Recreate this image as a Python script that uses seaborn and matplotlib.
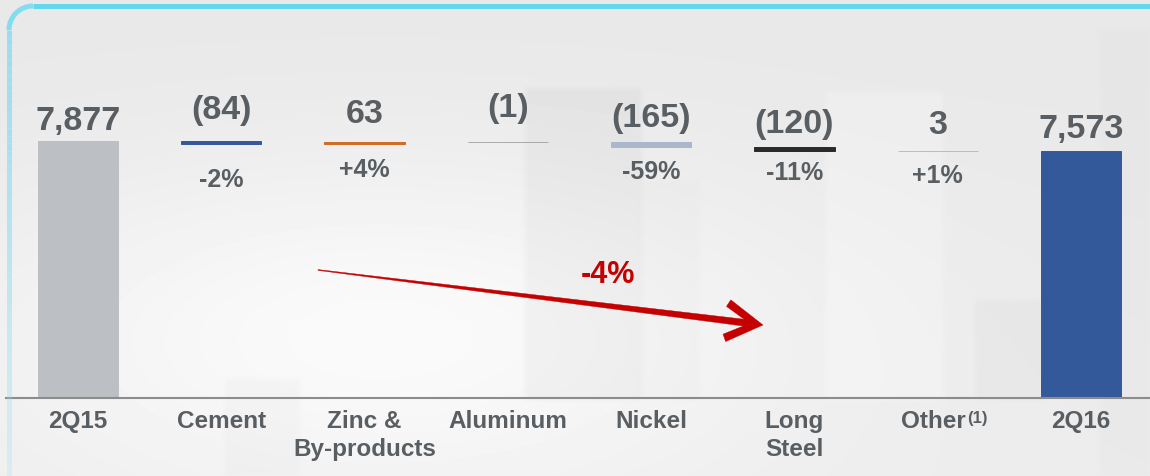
import numpy as np
import pandas as pd
import matplotlib
matplotlib.use("Agg")
import matplotlib.pyplot as plt
import seaborn as sns
from matplotlib.patches import Polygon, Arc
from matplotlib.lines import Line2D
from matplotlib.collections import LineCollection
from matplotlib.transforms import IdentityTransform, ScaledTranslation

# ---------------- data ----------------
categories = ["2Q15", "Cement", "Zinc &\nBy-products", "Aluminum", "Nickel",
              "Long\nSteel", "Other", "2Q16"]
footnotes = ["", "", "", "", "", "", "(1)", ""]
changes = [7877, -84, 63, -1, -165, -120, 3, 7573]
is_total = [True, False, False, False, False, False, False, True]
value_labels = ["7,877", "(84)", "63", "(1)", "(165)", "(120)", "3", "7,573"]
pct_labels = ["", "-2%", "+4%", "", "-59%", "-11%", "+1%", ""]
bar_colors = ["#bcc0c4", "#34599b", "#cf6b24", "#a9a9a9", "#abb8cc",
              "#2a2a2a", "#f0be2e", "#34599b"]
overall_change = "-4%"

# label layout (pixel gaps between bar edge and label baseline)
value_gap_px = [11, 22, 19, 25, 15, 14, 17, 13]
pct_gap_px = [0, 43, 33, 0, 32, 29, 32, 0]

# waterfall geometry derived from the changes
bottoms, heights = [], []
running = 0
for c, tot in zip(changes, is_total):
    if tot:
        bottoms.append(0)
        heights.append(c)
        running = c
    else:
        new = running + c
        bottoms.append(min(running, new))
        heights.append(abs(c))
        running = new

df = pd.DataFrame({"category": categories, "height": heights, "bottom": bottoms})

# ---------------- style ----------------
sns.set_theme(style="white")
plt.rcParams["font.family"] = ["Liberation Sans", "DejaVu Sans"]

TXT = "#595e62"
RED = "#c40000"
W, H, DPI = 1150, 476, 100
fig = plt.figure(figsize=(W / DPI, H / DPI), dpi=DPI)
fig.patch.set_facecolor("#ebebeb")

# ---------------- background ----------------
yy, xx = np.mgrid[0:H, 0:W].astype(float)
img = 232.0 + 4.0 * (yy / H)
img += 15.0 * np.exp(-(((xx - 380) / 400.0) ** 2 + ((yy - 330) / 170.0) ** 2))
shade = np.zeros_like(img)
for (x0, x1, y0, y1, d) in [(525, 642, 88, 400, -7), (826, 943, 92, 400, 4),
                            (975, 1045, 300, 400, -5), (225, 300, 378, 476, -4),
                            (640, 700, 180, 400, -3), (1100, 1150, 30, 476, -3)]:
    shade[y0:y1, x0:x1] += d
ker = np.ones(7) / 7
shade = np.apply_along_axis(lambda r: np.convolve(r, ker, mode="same"), 1, shade)
shade = np.apply_along_axis(lambda r: np.convolve(r, ker, mode="same"), 0, shade)
img = np.clip(img + shade, 0, 255)
bg = fig.add_axes([0, 0, 1, 1], zorder=-10)
bg.imshow(img, cmap="gray", vmin=0, vmax=255, aspect="auto",
          interpolation="bilinear", extent=(0, W, H, 0))
bg.set_axis_off()

# ---------------- main axes ----------------
left_px, right_px, base_px, top_px = 6.35, 1152.75, 398.0, 10.0
ax = fig.add_axes([left_px / W, (H - base_px) / H,
                   (right_px - left_px) / W, (base_px - top_px) / H])
ax.patch.set_alpha(0)

sns.barplot(data=df, x="category", y="height", order=categories,
            bottom=df["bottom"].to_numpy(), width=0.56, errorbar=None,
            color="#999999", saturation=1, ax=ax)
for p, c in zip(ax.patches, bar_colors):
    p.set_facecolor(c)
    p.set_edgecolor(c)
    p.set_linewidth(0.7)

ax.set_xlim(-0.5, len(categories) - 0.5)
ax.set_ylim(0, 11890)
ax.set_yticks([])
ax.set_xlabel("")
ax.set_ylabel("")
for s in ["top", "left", "right"]:
    ax.spines[s].set_visible(False)
ax.spines["bottom"].set_color("#8c8c8c")
ax.spines["bottom"].set_linewidth(1.5)
ax.set_xticks(range(len(categories)))
ax.set_xticklabels(categories, fontsize=17.5, fontweight="bold", color=TXT,
                   linespacing=1.3)
ax.tick_params(axis="x", length=0, pad=8.3)

# value labels above each bar, percentage labels below each change bar
for i in range(len(categories)):
    top = bottoms[i] + heights[i]
    ax.annotate(value_labels[i], (i, top), xytext=(0, value_gap_px[i]),
                textcoords="offset pixels", ha="center", va="baseline",
                fontsize=24.5, fontweight="bold", color=TXT)
    if pct_labels[i]:
        ax.annotate(pct_labels[i], (i, bottoms[i]), xytext=(0, -pct_gap_px[i]),
                    textcoords="offset pixels", ha="center", va="baseline",
                    fontsize=18, fontweight="bold", color=TXT)

# footnote markers next to tick labels (label + marker centred together)
for lbl, fn in zip(ax.get_xticklabels(), footnotes):
    if fn:
        lbl.set_transform(lbl.get_transform() +
                          ScaledTranslation(-4 / DPI, 0, fig.dpi_scale_trans))
fig.canvas.draw()
renderer = fig.canvas.get_renderer()
for lbl, fn in zip(ax.get_xticklabels(), footnotes):
    if fn:
        bb = lbl.get_window_extent(renderer)
        fig.text(bb.x1 + 1, bb.y1 - 1.5, fn, transform=IdentityTransform(),
                 ha="left", va="top", fontsize=12, fontweight="bold", color=TXT)

# overall change arrow (tapered shaft + barbed head)
arrow_start = (1.675, 3923)
arrow_end = (4.78, 2237)
p0 = ax.transData.transform(arrow_start)
p1 = ax.transData.transform(arrow_end)
u = (p1 - p0) / np.linalg.norm(p1 - p0)
n = np.array([-u[1], u[0]])


def pt(a, b):
    return p1 + u * a + n * b


L = np.linalg.norm(p1 - p0)
pts = [pt(-L, 0.4), pt(-19.4, 3.4), pt(-38.5, 14), pt(-35, 21), pt(0, 0),
       pt(-35, -21), pt(-38.5, -14), pt(-19.4, -3.4), pt(-L, -0.4)]
fig.add_artist(Polygon(pts, closed=True, transform=IdentityTransform(),
                       facecolor=RED, edgecolor=RED, linewidth=0.3))
ax.text(3.70, 3525, overall_change, ha="center", va="baseline", fontsize=22,
        fontweight="bold", color=RED)

# ---------------- rounded cyan frame ----------------
lw_pt = 5 * 72 / DPI
fig.add_artist(Line2D([33, W], [H - 5.8, H - 5.8], transform=IdentityTransform(),
                      color="#62d7ee", lw=lw_pt, solid_capstyle="butt"))
fig.add_artist(Arc((33, H - 30), 48, 48, theta1=90, theta2=180,
                   transform=IdentityTransform(), color="#84dcef", lw=lw_pt))
ys = np.linspace(H - 30, 0, 60)
segs = [[(9, ys[k]), (9, ys[k + 1])] for k in range(len(ys) - 1)]
alphas = np.linspace(0.85, 0.2, len(segs))
cols = [(0.55, 0.86, 0.94, a) for a in alphas]
fig.add_artist(LineCollection(segs, colors=cols, linewidths=lw_pt,
                              transform=IdentityTransform()))

fig.savefig("out.png", dpi=DPI)
